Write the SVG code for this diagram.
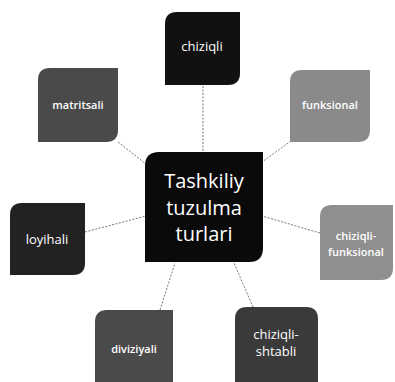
<svg xmlns="http://www.w3.org/2000/svg" width="395" height="382" viewBox="0 0 395 382">
<style>
.lbl{font-family:"Open Sans","Liberation Sans",sans-serif;fill:#ffffff;text-anchor:middle}
.s{font-size:11px;font-weight:600}
.c{font-size:20px}
.con line{stroke:#777;stroke-width:1;stroke-dasharray:2 1.5}
</style>
<rect width="395" height="382" fill="#ffffff"/>
<g class="con">
<line x1="203" y1="86" x2="203" y2="152"/>
<line x1="118" y1="142" x2="146" y2="164"/>
<line x1="291" y1="141" x2="262" y2="162"/>
<line x1="320" y1="233" x2="262" y2="216"/>
<line x1="85" y1="232" x2="146" y2="216"/>
<line x1="160" y1="310" x2="175" y2="263"/>
<line x1="253" y1="307" x2="234" y2="263"/>
</g>
<g id="chiziqli">
<path d="M177 12 H240 V73 Q240 85 228 85 H165 V24 Q165 12 177 12 Z" fill="#111"/>
<text class="lbl" x="202" y="51" font-size="13">chiziqli</text>
</g>
<g id="matritsali">
<path d="M50 68 H118 V130 Q118 142 106 142 H38 V80 Q38 68 50 68 Z" fill="#4a4a4a"/>
<text class="lbl s" x="78" y="109">matritsali</text>
</g>
<g id="funksional">
<path d="M302 70 H370 V130 Q370 142 358 142 H290 V82 Q290 70 302 70 Z" fill="#8a8a8a"/>
<text class="lbl s" x="330" y="109">funksional</text>
</g>
<g id="center">
<path d="M159 152 H263 V248 Q263 262 249 262 H145 V166 Q145 152 159 152 Z" fill="#0a0a0a"/>
<text class="lbl c" x="204" y="188">Tashkiliy</text>
<text class="lbl c" x="204" y="215">tuzulma</text>
<text class="lbl c" x="204" y="241">turlari</text>
</g>
<g id="chiziqli-funksional">
<path d="M332 205 H393 V268 Q393 280 381 280 H320 V217 Q320 205 332 205 Z" fill="#8f8f8f"/>
<text class="lbl s" x="356" y="240">chiziqli-</text>
<text class="lbl s" x="356" y="256">funksional</text>
</g>
<g id="loyihali">
<path d="M22 203 H85 V263 Q85 275 73 275 H10 V215 Q10 203 22 203 Z" fill="#222"/>
<text class="lbl" x="47" y="244" font-size="13">loyihali</text>
</g>
<g id="diviziyali">
<path d="M107 310 H173 V382 H95 V322 Q95 310 107 310 Z" fill="#4a4a4a"/>
<text class="lbl s" x="134" y="353">diviziyali</text>
</g>
<g id="chiziqli-shtabli">
<path d="M247 307 H306 Q318 307 318 319 V382 H235 V319 Q235 307 247 307 Z" fill="#3a3a3a"/>
<text class="lbl" x="276" y="339" font-size="13">chiziqli-</text>
<text class="lbl" x="276" y="356" font-size="13">shtabli</text>
</g>
</svg>
